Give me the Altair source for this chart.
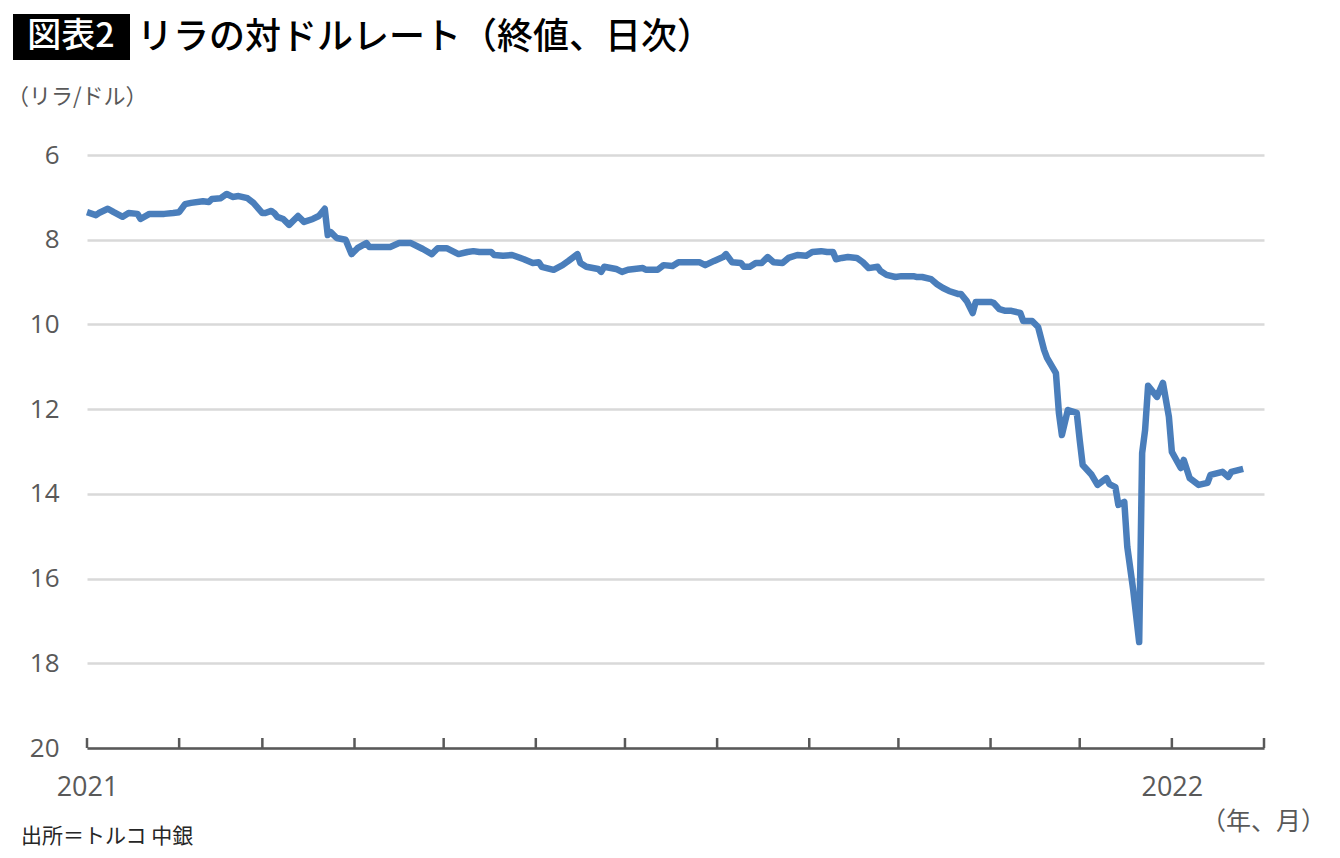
import pandas as pd
import altair as alt

# USD/TRY daily close
dates = [
    "2021-01-01", "2021-01-04", "2021-01-05", "2021-01-08", "2021-01-10", "2021-01-13",
    "2021-01-15", "2021-01-18", "2021-01-19", "2021-01-22", "2021-01-27", "2021-01-30",
    "2021-02-01", "2021-02-03", "2021-02-05", "2021-02-09", "2021-02-11", "2021-02-12",
    "2021-02-15", "2021-02-17", "2021-02-19", "2021-02-21", "2021-02-24", "2021-02-26",
    "2021-03-01", "2021-03-02", "2021-03-04", "2021-03-05", "2021-03-06", "2021-03-08",
    "2021-03-10", "2021-03-13", "2021-03-15", "2021-03-18", "2021-03-20", "2021-03-22",
    "2021-03-23", "2021-03-24", "2021-03-26", "2021-03-29", "2021-03-31", "2021-04-02",
    "2021-04-05", "2021-04-06", "2021-04-09", "2021-04-13", "2021-04-16", "2021-04-20",
    "2021-04-24", "2021-04-27", "2021-04-29", "2021-05-02", "2021-05-06", "2021-05-09",
    "2021-05-11", "2021-05-13", "2021-05-17", "2021-05-18", "2021-05-21", "2021-05-24",
    "2021-05-28", "2021-05-31", "2021-06-02", "2021-06-03", "2021-06-07", "2021-06-10",
    "2021-06-12", "2021-06-15", "2021-06-16", "2021-06-18", "2021-06-22", "2021-06-23",
    "2021-06-24", "2021-06-28", "2021-06-30", "2021-07-02", "2021-07-07", "2021-07-08",
    "2021-07-12", "2021-07-14", "2021-07-17", "2021-07-19", "2021-07-26", "2021-07-28",
    "2021-07-31", "2021-08-03", "2021-08-04", "2021-08-06", "2021-08-09", "2021-08-10",
    "2021-08-12", "2021-08-14", "2021-08-16", "2021-08-18", "2021-08-20", "2021-08-23",
    "2021-08-25", "2021-08-28", "2021-08-31", "2021-09-02", "2021-09-05", "2021-09-07",
    "2021-09-09", "2021-09-10", "2021-09-12", "2021-09-14", "2021-09-17", "2021-09-19",
    "2021-09-21", "2021-09-24", "2021-09-25", "2021-09-27", "2021-09-30", "2021-10-02",
    "2021-10-06", "2021-10-07", "2021-10-09", "2021-10-12", "2021-10-14", "2021-10-16",
    "2021-10-18", "2021-10-21", "2021-10-22", "2021-10-24", "2021-10-26", "2021-10-27",
    "2021-11-01", "2021-11-02", "2021-11-04", "2021-11-06", "2021-11-08", "2021-11-11",
    "2021-11-12", "2021-11-15", "2021-11-17", "2021-11-19", "2021-11-20", "2021-11-23",
    "2021-11-24", "2021-11-25", "2021-11-27", "2021-11-30", "2021-12-01", "2021-12-02",
    "2021-12-05", "2021-12-07", "2021-12-10", "2021-12-11", "2021-12-13", "2021-12-14",
    "2021-12-16", "2021-12-17", "2021-12-19", "2021-12-21", "2021-12-22", "2021-12-23",
    "2021-12-24", "2021-12-27", "2021-12-29", "2021-12-31", "2022-01-01", "2022-01-04",
    "2022-01-05", "2022-01-07", "2022-01-10", "2022-01-13", "2022-01-14", "2022-01-18",
    "2022-01-20", "2022-01-21", "2022-01-25",
]
rates = [
    7.35, 7.42, 7.37, 7.27, 7.35, 7.46,
    7.37, 7.39, 7.51, 7.39, 7.39, 7.37,
    7.35, 7.16, 7.13, 7.09, 7.11, 7.04,
    7.02, 6.92, 6.99, 6.97, 7.02, 7.13,
    7.37, 7.37, 7.32, 7.37, 7.46, 7.51,
    7.65, 7.44, 7.58, 7.51, 7.44, 7.27,
    7.89, 7.82, 7.96, 8.00, 8.34, 8.20,
    8.08, 8.17, 8.17, 8.17, 8.08, 8.08,
    8.22, 8.34, 8.20, 8.20, 8.34, 8.29,
    8.27, 8.29, 8.29, 8.36, 8.38, 8.36,
    8.46, 8.55, 8.53, 8.64, 8.71, 8.60,
    8.50, 8.34, 8.55, 8.64, 8.69, 8.76,
    8.64, 8.69, 8.76, 8.71, 8.67, 8.71,
    8.71, 8.60, 8.62, 8.53, 8.53, 8.60,
    8.50, 8.41, 8.34, 8.53, 8.55, 8.64,
    8.64, 8.55, 8.55, 8.41, 8.53, 8.55,
    8.43, 8.36, 8.38, 8.29, 8.27, 8.29,
    8.29, 8.46, 8.43, 8.41, 8.43, 8.53,
    8.67, 8.64, 8.74, 8.83, 8.88, 8.86,
    8.86, 8.88, 8.88, 8.93, 9.05, 9.14,
    9.21, 9.28, 9.28, 9.45, 9.73, 9.47,
    9.47, 9.49, 9.64, 9.68, 9.68, 9.73,
    9.92, 9.92, 10.06, 10.60, 10.79, 11.15,
    12.09, 12.61, 12.02, 12.09, 12.73, 13.32,
    13.55, 13.79, 13.63, 13.77, 13.84, 14.26,
    14.19, 15.25, 16.27, 17.50, 13.04, 12.49,
    11.45, 11.71, 11.38, 12.18, 13.01, 13.39,
    13.20, 13.63, 13.79, 13.74, 13.55, 13.48,
    13.60, 13.48, 13.41,
]

# month boundaries for the small upward ticks on the x axis
month_starts = pd.date_range("2021-01-01", "2022-02-01", freq="MS").strftime("%Y-%m-%d").tolist()

y_ticks = [6, 8, 10, 12, 14, 16, 18, 20]

W, H = 1177, 593
FONT = "Open Sans, Noto Sans CJK JP"
JP = "Noto Sans CJK JP"
GREY = "#595959"

df = pd.DataFrame({"date": dates, "rate": rates})
ticks_df = pd.DataFrame({"date": month_starts})
one = pd.DataFrame({"k": [0]})  # single row for annotation marks

x_scale = alt.Scale(domain=["2021-01-01", "2022-02-01"], nice=False)
y_scale = alt.Scale(domain=[6, 20], reverse=True, nice=False, zero=False)

line = alt.Chart(df).mark_line(color="#4A7EBB", strokeWidth=6.5, strokeJoin="round").encode(
    x=alt.X("date:T", scale=x_scale, title=None,
            axis=alt.Axis(values=month_starts[:-1], grid=False, ticks=False, domain=True,
                          domainColor=GREY, domainWidth=2.5,
                          labelExpr="month(datum.value) == 0 ? timeFormat(datum.value, '%Y') : ''",
                          labelFont=FONT, labelFontSize=27, labelColor=GREY,
                          labelPadding=26, labelFlush=False, labelOverlap=False)),
    y=alt.Y("rate:Q", scale=y_scale, title=None,
            axis=alt.Axis(values=y_ticks, grid=True, gridColor="#D9D9D9", gridWidth=2.5,
                          ticks=False, domain=False, labelFont=FONT, labelFontSize=26,
                          labelColor=GREY, labelPadding=28, format="d")),
)

month_ticks = alt.Chart(ticks_df).mark_rule(color=GREY, strokeWidth=2.5).encode(
    x=alt.X("date:T", scale=x_scale),
    y=alt.Y(datum=20, scale=y_scale),
    y2=alt.value(H - 10),
)

# header: black box with "図表2" and the chart title
box = alt.Chart(one).mark_rect(color="black").encode(
    x=alt.value(-74), x2=alt.value(43), y=alt.value(-141), y2=alt.value(-95)
)


def label(text, x, y, size, color="black", align="left", weight=400):
    return alt.Chart(one).mark_text(
        text=text, align=align, baseline="middle", font=JP, fontSize=size,
        color=color, fontWeight=weight,
    ).encode(x=alt.value(x), y=alt.value(y))


badge = label("図表2", -16, -118, 34, color="white", align="center", weight=500)
title = label("リラの対ドルレート（終値、日次）", 50, -117, 36, weight=500)
unit = label("（リラ/ドル）", -80, -58, 22, color=GREY)
axis_unit = label("（年、月）", 1239, 667, 25, color=GREY, align="right")
source = label("出所＝トルコ 中銀", -66, 682, 21, color="#262626")

chart = alt.layer(line, month_ticks, box, badge, title, unit, axis_unit, source).properties(
    width=W, height=H,
    autosize=alt.AutoSizeParams(type="none"),
    padding={"left": 79, "top": 147, "right": 68, "bottom": 102},
).configure(background="white").configure_view(strokeWidth=0)

chart.save("out.html", embed_options={"renderer": "svg", "actions": False})
